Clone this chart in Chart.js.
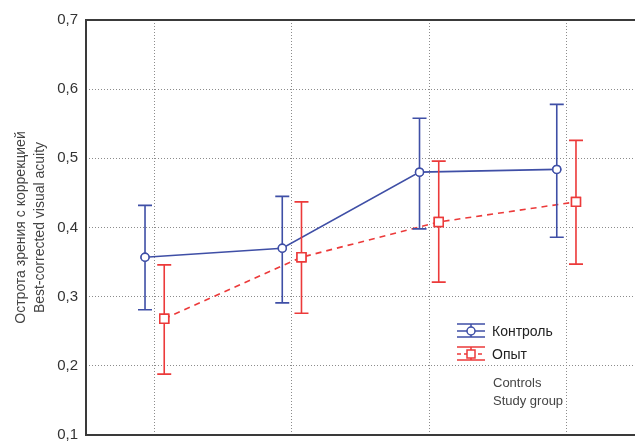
<!DOCTYPE html>
<html>
<head>
<meta charset="utf-8">
<script src="https://cdn.jsdelivr.net/npm/chart.js@4/dist/chart.umd.min.js"></script>
<style>
  html, body { margin: 0; padding: 0; background: #fff; overflow: hidden; }
  #wrap { width: 635px; height: 445px; }
</style>
</head>
<body>
<div id="wrap"><canvas id="chart" width="635" height="445"></canvas></div>
<script>
// Visual acuity chart - two groups with error bars

// Data
const groups = [1, 2, 3, 4];
const controlMean = [0.357, 0.370, 0.480, 0.484];
const controlLow = [0.281, 0.291, 0.398, 0.386];
const controlHigh = [0.432, 0.445, 0.558, 0.578];
const studyMean = [0.268, 0.357, 0.408, 0.437];
const studyLow = [0.188, 0.276, 0.321, 0.347];
const studyHigh = [0.346, 0.437, 0.496, 0.526];
const yTicks = [0.1, 0.2, 0.3, 0.4, 0.5, 0.6, 0.7];
const seriesNames = ['Контроль', 'Опыт'];
const noteLines = ['Controls', 'Study group'];

const BLUE = '#3f4fa6';
const RED = '#ec3a3a';
const shift = 0.07; // groups are drawn slightly apart

function toPoints(means, lows, highs, dx) {
    return groups.map((g, i) => ({ x: g + dx, y: means[i], lo: lows[i], hi: highs[i] }));
}

// Error bars, then markers redrawn on top
const errorBars = {
    id: 'errorBars',
    afterDatasetsDraw(chart) {
        const ctx = chart.ctx;
        const xs = chart.scales.x;
        const ys = chart.scales.y;
        chart.data.datasets.forEach(ds => {
            ctx.save();
            ctx.strokeStyle = ds.borderColor;
            ctx.lineWidth = 1.6;
            ds.data.forEach(p => {
                const x = xs.getPixelForValue(p.x);
                const top = ys.getPixelForValue(p.hi);
                const bot = ys.getPixelForValue(p.lo);
                ctx.beginPath();
                ctx.moveTo(x, top); ctx.lineTo(x, bot);
                ctx.moveTo(x - 7, top); ctx.lineTo(x + 7, top);
                ctx.moveTo(x - 7, bot); ctx.lineTo(x + 7, bot);
                ctx.stroke();
            });
            ctx.restore();
        });
        chart.data.datasets.forEach((ds, i) => {
            chart.getDatasetMeta(i).data.forEach(pt => pt.draw(ctx, chart.chartArea));
        });
    }
};

// Custom legend in the lower right
const sideLegend = {
    id: 'sideLegend',
    afterDraw(chart) {
        const ctx = chart.ctx;
        const x0 = 457, x1 = 485, xm = 471;
        const rows = [
            { color: BLUE, y: 331, dash: [], marker: 'circle' },
            { color: RED, y: 354, dash: [4, 3], marker: 'square' }
        ];
        ctx.save();
        rows.forEach((r, i) => {
            ctx.strokeStyle = r.color;
            ctx.lineWidth = 1.5;
            ctx.setLineDash([]);
            ctx.beginPath();
            ctx.moveTo(x0, r.y - 7); ctx.lineTo(x1, r.y - 7);
            ctx.moveTo(x0, r.y + 6); ctx.lineTo(x1, r.y + 6);
            ctx.moveTo(xm, r.y - 7); ctx.lineTo(xm, r.y + 6);
            ctx.stroke();
            ctx.setLineDash(r.dash);
            ctx.beginPath();
            ctx.moveTo(x0, r.y); ctx.lineTo(x1, r.y);
            ctx.stroke();
            ctx.setLineDash([]);
            ctx.fillStyle = '#fff';
            ctx.beginPath();
            if (r.marker === 'circle') {
                ctx.arc(xm, r.y, 4, 0, Math.PI * 2);
            } else {
                ctx.rect(xm - 4, r.y - 4, 8, 8);
            }
            ctx.fill();
            ctx.stroke();

            ctx.fillStyle = '#222';
            ctx.font = '14px "Liberation Sans", Arial, sans-serif';
            ctx.textBaseline = 'middle';
            ctx.fillText(seriesNames[i], 492, r.y + 1);
        });
        ctx.fillStyle = '#444';
        ctx.font = '13px "Liberation Sans", Arial, sans-serif';
        ctx.textBaseline = 'middle';
        ctx.fillText(noteLines[0], 493, 383);
        ctx.fillText(noteLines[1], 493, 401);
        ctx.restore();
    }
};

// Frame lines: left, top, bottom
const frame = {
    id: 'frame',
    beforeDatasetsDraw(chart) {
        const { left, right, top, bottom } = chart.chartArea;
        const ctx = chart.ctx;
        ctx.save();
        ctx.strokeStyle = '#3a3a3a';
        ctx.lineWidth = 2;
        ctx.beginPath();
        ctx.moveTo(right + 5, top); ctx.lineTo(left, top);
        ctx.lineTo(left, bottom); ctx.lineTo(right + 5, bottom);
        ctx.stroke();
        ctx.restore();
    }
};

const ctx = document.getElementById('chart').getContext('2d');

new Chart(ctx, {
    type: 'line',
    data: {
        datasets: [
            {
                label: seriesNames[0],
                data: toPoints(controlMean, controlLow, controlHigh, -shift),
                borderColor: BLUE,
                backgroundColor: '#fff',
                borderWidth: 1.6,
                pointStyle: 'circle',
                pointRadius: 4,
                pointBorderWidth: 1.5,
                tension: 0
            },
            {
                label: seriesNames[1],
                data: toPoints(studyMean, studyLow, studyHigh, shift),
                borderColor: RED,
                backgroundColor: '#fff',
                borderWidth: 1.6,
                borderDash: [6, 5],
                pointStyle: 'rect',
                pointRadius: 6.3,
                pointBorderWidth: 1.5,
                tension: 0
            }
        ]
    },
    options: {
        responsive: false,
        animation: false,
        layout: { autoPadding: false, padding: { top: 20, right: 0, left: 0, bottom: 0 } },
        plugins: {
            legend: { display: false },
            tooltip: { enabled: false }
        },
        scales: {
            x: {
                type: 'linear',
                min: 0.5,
                max: 4.5,
                afterBuildTicks(scale) {
                    scale.ticks = groups.map(v => ({ value: v }));
                },
                afterFit(scale) {
                    scale.height = 10;
                    scale.paddingLeft = 0;
                    scale.paddingRight = 0;
                },
                ticks: { display: false },
                border: { display: false, dash: [1, 2] },
                grid: {
                    color: '#8c8c8c',
                    lineWidth: 1,
                    drawTicks: false
                }
            },
            y: {
                min: 0.1,
                max: 0.7,
                afterBuildTicks(scale) {
                    scale.ticks = yTicks.map(v => ({ value: v }));
                },
                afterFit(scale) {
                    scale.width = 86;
                    scale.paddingTop = 0;
                    scale.paddingBottom = 0;
                },
                border: { display: false, dash: [1, 2] },
                grid: {
                    color: c => (c.tick && (c.tick.value < 0.15 || c.tick.value > 0.65)) ? 'rgba(0,0,0,0)' : '#8c8c8c',
                    lineWidth: 1,
                    drawTicks: false
                },
                ticks: {
                    padding: 8,
                    color: '#333',
                    font: { size: 15, family: '"Liberation Sans", Arial, sans-serif' },
                    callback: v => v.toFixed(1).replace('.', ',')
                },
                title: {
                    display: true,
                    text: ['Острота зрения с коррекцией', 'Best-corrected visual acuity'],
                    color: '#444',
                    font: { size: 14, family: '"Liberation Sans", Arial, sans-serif', lineHeight: 1.4 },
                    padding: { top: 11, bottom: 0 }
                }
            }
        }
    },
    plugins: [frame, errorBars, sideLegend]
});
</script>
</body>
</html>
